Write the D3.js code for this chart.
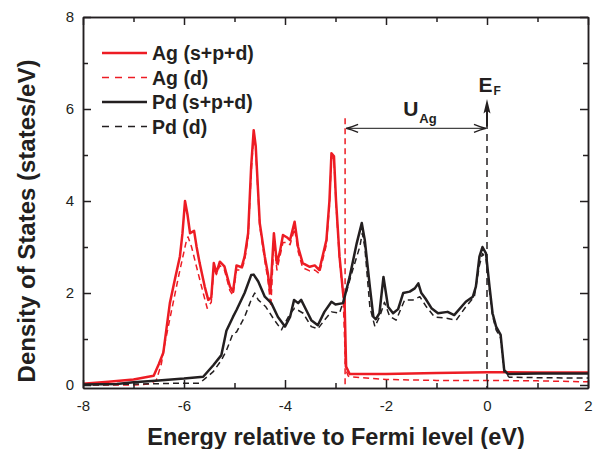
<!DOCTYPE html>
<html>
<head>
<meta charset="utf-8">
<script src="https://cdn.jsdelivr.net/npm/d3@7"></script>
<style>
  body { margin: 0; background: #fff; }
  svg { display: block; font-family: "Liberation Sans", Arial, sans-serif; }
  .tick text { font-size: 15px; fill: #231f20; }
  .axis path, .axis line { stroke: #231f20; stroke-width: 1.5; }
</style>
</head>
<body>
<svg id="dos"></svg>
<script>
const width = 596;
const height = 449;

// DOS curves, [energy (eV), states/eV]
const agTotal = [[-8,0.03],[-7.5,0.07],[-7,0.12],[-6.6,0.2],[-6.5,0.45],[-6.41,0.7],[-6.35,1.2],[-6.28,1.78],[-6.18,2.3],[-6.08,2.8],[-6.03,3.3],[-5.98,4.0],[-5.93,3.7],[-5.88,3.3],[-5.8,3.35],[-5.75,3.0],[-5.69,2.65],[-5.59,2.14],[-5.52,1.85],[-5.46,1.9],[-5.41,2.65],[-5.36,2.44],[-5.29,2.68],[-5.2,2.58],[-5.09,2.14],[-5.03,2.03],[-4.96,2.6],[-4.86,2.56],[-4.8,2.79],[-4.73,3.3],[-4.67,4.75],[-4.62,5.54],[-4.58,5.2],[-4.5,3.52],[-4.4,2.79],[-4.34,2.43],[-4.29,2.0],[-4.22,3.3],[-4.16,2.64],[-4.1,2.9],[-4.04,3.26],[-3.95,3.2],[-3.9,3.15],[-3.81,3.55],[-3.74,3.0],[-3.65,2.65],[-3.51,2.57],[-3.41,2.6],[-3.32,2.5],[-3.18,3.15],[-3.12,4.0],[-3.08,5.04],[-3.03,4.97],[-2.99,4.02],[-2.92,2.79],[-2.85,2.0],[-2.82,1.8],[-2.79,0.4],[-2.72,0.24],[-2,0.24],[-1,0.26],[0,0.28],[1,0.27],[2,0.27]];
const agD = [[-8,0.0],[-7,0.0],[-6.7,0.02],[-6.55,0.1],[-6.45,0.45],[-6.38,0.9],[-6.25,1.6],[-6.1,2.4],[-6.02,2.8],[-5.95,3.15],[-5.92,3.22],[-5.85,3.0],[-5.72,2.43],[-5.62,2.0],[-5.54,1.67],[-5.46,1.8],[-5.41,2.55],[-5.36,2.4],[-5.29,2.6],[-5.2,2.5],[-5.09,2.05],[-5.03,1.95],[-4.96,2.5],[-4.86,2.5],[-4.8,2.7],[-4.73,3.2],[-4.67,4.6],[-4.62,5.45],[-4.58,5.1],[-4.5,3.45],[-4.4,2.7],[-4.34,2.3],[-4.28,1.7],[-4.22,3.15],[-4.16,2.5],[-4.1,2.8],[-4.04,3.1],[-3.95,3.1],[-3.9,3.05],[-3.81,3.4],[-3.74,2.9],[-3.65,2.55],[-3.51,2.48],[-3.41,2.5],[-3.32,2.42],[-3.18,3.05],[-3.12,3.9],[-3.08,4.95],[-3.03,4.9],[-2.99,3.95],[-2.92,2.7],[-2.85,1.95],[-2.8,0.35],[-2.75,0.2],[-2.72,0.18],[-2,0.12],[-1,0.1],[0,0.1],[1,0.09],[2,0.07]];
const pdTotal = [[-8,0.01],[-7.33,0.02],[-7,0.06],[-6.5,0.1],[-6,0.14],[-5.62,0.18],[-5.42,0.43],[-5.26,0.65],[-5.16,1.18],[-5.03,1.48],[-4.96,1.63],[-4.8,2.0],[-4.67,2.39],[-4.62,2.4],[-4.53,2.25],[-4.4,1.92],[-4.27,1.78],[-4.14,1.48],[-4.0,1.27],[-3.9,1.48],[-3.82,1.85],[-3.74,1.78],[-3.68,1.85],[-3.58,1.63],[-3.48,1.41],[-3.35,1.3],[-3.22,1.59],[-3.08,1.81],[-3.0,1.75],[-2.85,1.78],[-2.72,2.35],[-2.58,3.08],[-2.48,3.52],[-2.42,3.15],[-2.32,2.14],[-2.25,1.48],[-2.2,1.43],[-2.13,1.56],[-2.05,2.35],[-1.96,1.7],[-1.86,1.56],[-1.76,1.65],[-1.66,2.0],[-1.53,2.03],[-1.43,2.1],[-1.36,2.21],[-1.3,2.0],[-1.22,1.88],[-1.1,1.67],[-0.97,1.56],[-0.78,1.59],[-0.65,1.52],[-0.42,1.81],[-0.28,1.92],[-0.22,2.14],[-0.15,2.79],[-0.09,3.0],[-0.02,2.86],[0.05,2.14],[0.11,1.56],[0.18,1.27],[0.27,1.09],[0.34,0.33],[0.41,0.24],[1,0.25],[2,0.25]];
const pdD = [[-8,0.0],[-7,0.02],[-6,0.04],[-5.69,0.04],[-5.42,0.29],[-5.26,0.54],[-5.16,0.75],[-5.03,1.12],[-4.96,1.15],[-4.8,1.48],[-4.67,1.85],[-4.6,2.0],[-4.53,1.85],[-4.38,1.7],[-4.21,1.41],[-4.07,1.2],[-3.9,1.55],[-3.81,1.67],[-3.64,1.56],[-3.48,1.27],[-3.35,1.22],[-3.22,1.41],[-3.08,1.59],[-2.92,1.56],[-2.79,2.0],[-2.66,2.5],[-2.52,3.0],[-2.47,3.3],[-2.42,3.0],[-2.32,1.7],[-2.22,1.27],[-2.12,1.5],[-2.03,1.8],[-1.93,1.5],[-1.8,1.41],[-1.63,1.85],[-1.46,1.85],[-1.33,1.92],[-1.2,1.7],[-1.04,1.48],[-0.8,1.45],[-0.61,1.41],[-0.42,1.7],[-0.25,1.92],[-0.15,2.6],[-0.09,2.86],[-0.02,2.75],[0.05,2.05],[0.11,1.5],[0.18,1.2],[0.27,1.02],[0.34,0.28],[0.44,0.17],[1,0.16],[2,0.15]];

const xTicks = [-8, -7, -6, -5, -4, -3, -2, -1, 0, 1, 2];
const yTicks = [0, 1, 2, 3, 4, 5, 6, 7, 8];
const legendNames = ["Ag (s+p+d)", "Ag (d)", "Pd (s+p+d)", "Pd (d)"];

// annotation values (eV / states/eV)
const agEdge = -2.81;
const fermi = 0;

const red = "#ed1c24";
const dark = "#231f20";

const series = [
    {data: agTotal, color: red, width: 2.5, dash: null},
    {data: agD, color: red, width: 1.5, dash: "6 4"},
    {data: pdTotal, color: dark, width: 2.5, dash: null},
    {data: pdD, color: dark, width: 1.5, dash: "6 4"}
];

const svg = d3.select("#dos")
    .attr("width", width)
    .attr("height", height);

const x = d3.scaleLinear().domain([-8, 2]).range([83, 588]);
const y = d3.scaleLinear().domain([-0.065, 8]).range([388, 17]);

const line = d3.line()
    .x(d => x(d[0]))
    .y(d => y(d[1]));

// vertical markers
svg.append("line")
    .attr("x1", x(agEdge)).attr("x2", x(agEdge))
    .attr("y1", y(5.8)).attr("y2", y.range()[0])
    .attr("stroke", red).attr("stroke-width", 1.5)
    .attr("stroke-dasharray", "6 4");

svg.append("line")
    .attr("x1", x(fermi)).attr("x2", x(fermi))
    .attr("y1", y(5.72)).attr("y2", y.range()[0])
    .attr("stroke", dark).attr("stroke-width", 1.5)
    .attr("stroke-dasharray", "7 5");

// curves
series.forEach(s => {
    svg.append("path")
        .datum(s.data)
        .attr("d", line)
        .attr("fill", "none")
        .attr("stroke", s.color)
        .attr("stroke-width", s.width)
        .attr("stroke-linejoin", "round")
        .attr("stroke-dasharray", s.dash);
});

// axes, ticks pointing inward
const major = xTicks.filter(d => d % 2 === 0);
const minor = xTicks.filter(d => d % 2 !== 0);
const yMajor = yTicks.filter(d => d % 2 === 0);
const yMinor = yTicks.filter(d => d % 2 !== 0);

const x0 = x.range()[0], x1 = x.range()[1];
const y0 = y.range()[0], y1 = y.range()[1];

svg.append("g").attr("class", "axis")
    .attr("transform", `translate(0,${y0})`)
    .call(d3.axisBottom(x).tickValues(major).tickSizeInner(-8).tickSizeOuter(0).tickPadding(12).tickFormat(d => String(d)));
svg.append("g").attr("class", "axis")
    .attr("transform", `translate(0,${y0})`)
    .call(d3.axisBottom(x).tickValues(minor).tickSizeInner(-5).tickSizeOuter(0).tickFormat(""));
svg.append("g").attr("class", "axis")
    .attr("transform", `translate(0,${y1})`)
    .call(d3.axisTop(x).tickValues(major).tickSizeInner(-8).tickSizeOuter(0).tickFormat(""));
svg.append("g").attr("class", "axis")
    .attr("transform", `translate(0,${y1})`)
    .call(d3.axisTop(x).tickValues(minor).tickSizeInner(-5).tickSizeOuter(0).tickFormat(""));

svg.append("g").attr("class", "axis")
    .attr("transform", `translate(${x0},0)`)
    .call(d3.axisLeft(y).tickValues(yMajor).tickSizeInner(-8).tickSizeOuter(0).tickPadding(9).tickFormat(d => String(d)));
svg.append("g").attr("class", "axis")
    .attr("transform", `translate(${x0},0)`)
    .call(d3.axisLeft(y).tickValues(yMinor).tickSizeInner(-5).tickSizeOuter(0).tickFormat(""));
svg.append("g").attr("class", "axis")
    .attr("transform", `translate(${x1},0)`)
    .call(d3.axisRight(y).tickValues(yMajor).tickSizeInner(-8).tickSizeOuter(0).tickFormat(""));
svg.append("g").attr("class", "axis")
    .attr("transform", `translate(${x1},0)`)
    .call(d3.axisRight(y).tickValues(yMinor).tickSizeInner(-5).tickSizeOuter(0).tickFormat(""));

svg.selectAll(".tick text").attr("font-family", null).attr("font-size", null);

// axis titles
svg.append("text")
    .attr("x", 336)
    .attr("y", 445)
    .attr("text-anchor", "middle")
    .attr("font-size", 23.5)
    .attr("font-weight", "bold")
    .attr("fill", dark)
    .text("Energy relative to Fermi level (eV)");

svg.append("text")
    .attr("transform", "translate(35,221) rotate(-90)")
    .attr("text-anchor", "middle")
    .attr("font-size", 24)
    .attr("font-weight", "bold")
    .attr("fill", dark)
    .text("Density of States (states/eV)");

// legend
const legend = svg.append("g").attr("transform", "translate(102,53)");
legendNames.forEach((name, i) => {
    const s = series[i];
    const g = legend.append("g").attr("transform", `translate(0,${i * 24.5})`);
    g.append("line")
        .attr("x1", 0).attr("x2", 45)
        .attr("stroke", s.color)
        .attr("stroke-width", s.width)
        .attr("stroke-dasharray", s.dash ? "7 6" : null);
    g.append("text")
        .attr("x", 50)
        .attr("y", 7)
        .attr("font-size", 19.5)
        .attr("font-weight", "bold")
        .attr("fill", dark)
        .text(name);
});

// U_Ag double arrow
const uY = y(5.58);
svg.append("line")
    .attr("x1", x(agEdge) + 1).attr("x2", x(fermi) - 1)
    .attr("y1", uY).attr("y2", uY)
    .attr("stroke", "#444").attr("stroke-width", 1.2);
[[x(agEdge) + 1, 1], [x(fermi) - 1, -1]].forEach(([px, dir]) => {
    svg.append("path")
        .attr("d", `M${px + dir * 12},${uY - 4} Q${px + dir * 5},${uY - 1} ${px},${uY} Q${px + dir * 5},${uY + 1} ${px + dir * 12},${uY + 4}`)
        .attr("fill", "none")
        .attr("stroke", dark)
        .attr("stroke-width", 1.4);
});

const uLabel = svg.append("text")
    .attr("x", x(-1.66))
    .attr("y", y(5.85))
    .attr("font-weight", "bold")
    .attr("fill", dark);
uLabel.append("tspan").attr("font-size", 21).text("U");
uLabel.append("tspan").attr("font-size", 13).attr("dy", 7).attr("dx", 1).text("Ag");

// E_F arrow
const fx = x(fermi);
svg.append("line")
    .attr("x1", fx).attr("x2", fx)
    .attr("y1", y(5.62)).attr("y2", y(6.0))
    .attr("stroke", dark).attr("stroke-width", 2);
svg.append("path")
    .attr("d", `M${fx},${y(6.22)} L${fx + 3.5},${y(5.9)} L${fx},${y(5.96)} L${fx - 3.5},${y(5.9)} Z`)
    .attr("fill", dark);

const eLabel = svg.append("text")
    .attr("x", x(-0.17))
    .attr("y", y(6.38))
    .attr("font-weight", "bold")
    .attr("fill", dark);
eLabel.append("tspan").attr("font-size", 21).text("E");
eLabel.append("tspan").attr("font-size", 12).attr("dy", 3).attr("dx", 1).text("F");
</script>
</body>
</html>
